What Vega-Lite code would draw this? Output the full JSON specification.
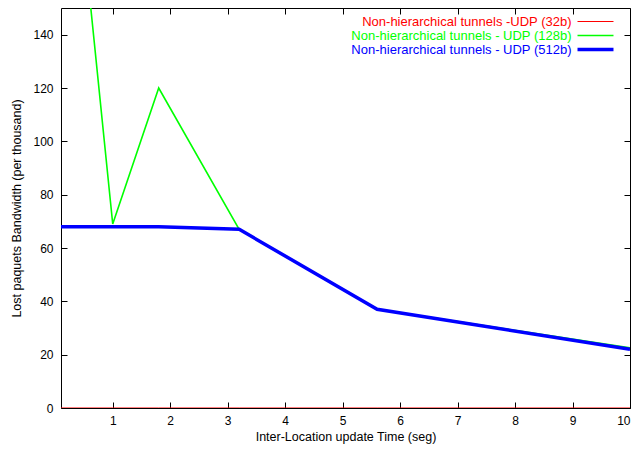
{
  "$schema": "https://vega.github.io/schema/vega-lite/v6.json",
  "width": 569,
  "height": 400,
  "autosize": "none",
  "padding": {"left": 61, "top": 8, "right": 10, "bottom": 48},
  "config": {
    "font": "Liberation Sans",
    "view": {"stroke": "#000", "strokeWidth": 1},
    "axis": {"grid": false, "domain": false, "labelColor": "#000", "labelFontSize": 12, "titleFontSize": 12.5, "titleFontWeight": "normal", "titleColor": "#000"}
  },
  "data": {"values": [
    {"series": "Non-hierarchical tunnels -UDP (32b)", "t": 0.1, "v": 0},
    {"series": "Non-hierarchical tunnels -UDP (32b)", "t": 1, "v": 0},
    {"series": "Non-hierarchical tunnels -UDP (32b)", "t": 1.8, "v": 0},
    {"series": "Non-hierarchical tunnels -UDP (32b)", "t": 3.2, "v": 0},
    {"series": "Non-hierarchical tunnels -UDP (32b)", "t": 5.6, "v": 0},
    {"series": "Non-hierarchical tunnels -UDP (32b)", "t": 10, "v": 0},
    {"series": "Non-hierarchical tunnels - UDP (128b)", "t": 0.1, "v": 260},
    {"series": "Non-hierarchical tunnels - UDP (128b)", "t": 1, "v": 69},
    {"series": "Non-hierarchical tunnels - UDP (128b)", "t": 1.8, "v": 120},
    {"series": "Non-hierarchical tunnels - UDP (128b)", "t": 3.2, "v": 67},
    {"series": "Non-hierarchical tunnels - UDP (128b)", "t": 5.6, "v": 37},
    {"series": "Non-hierarchical tunnels - UDP (128b)", "t": 10, "v": 22.6},
    {"series": "Non-hierarchical tunnels - UDP (512b)", "t": 0.1, "v": 68},
    {"series": "Non-hierarchical tunnels - UDP (512b)", "t": 1, "v": 68},
    {"series": "Non-hierarchical tunnels - UDP (512b)", "t": 1.8, "v": 68},
    {"series": "Non-hierarchical tunnels - UDP (512b)", "t": 3.2, "v": 67},
    {"series": "Non-hierarchical tunnels - UDP (512b)", "t": 5.6, "v": 37},
    {"series": "Non-hierarchical tunnels - UDP (512b)", "t": 10, "v": 22}
  ]},
  "resolve": {"axis": {"x": "independent", "y": "independent"}},
  "layer": [
    {
      "mark": {"type": "line", "clip": true},
      "encoding": {
        "x": {"field": "t", "type": "quantitative", "scale": {"domain": [0.1, 10], "nice": false, "zero": false},
              "axis": {"title": "Inter-Location update Time (seg)", "values": [1,2,3,4,5,6,7,8,9,10], "format": "d", "ticks": true, "tickColor": "black", "tickSize": 6, "offset": -6, "labelPadding": 7, "titlePadding": 4}},
        "y": {"field": "v", "type": "quantitative", "scale": {"domain": [0, 150], "nice": false},
              "axis": {"title": "Lost paquets Bandwidth (per thousand)", "values": [0,20,40,60,80,100,120,140], "ticks": true, "tickColor": "black", "tickSize": 6, "offset": -6, "labelPadding": 8, "titlePadding": 9}},
        "color": {"field": "series", "type": "nominal",
                  "scale": {"domain": ["Non-hierarchical tunnels -UDP (32b)", "Non-hierarchical tunnels - UDP (128b)", "Non-hierarchical tunnels - UDP (512b)"], "range": ["#ff0000", "#00ff00", "#0000ff"]},
                  "legend": {"orient": "none", "legendX": 528, "legendY": 7, "title": null, "labelAlign": "right", "labelOffset": -30.5, "labelLimit": 0, "labelFontSize": 13, "labelColor": {"expr": "scale('color', datum.value)"}, "symbolType": "M-5.14,0H5.14", "symbolSize": 49, "rowPadding": -2, "padding": 0}},
        "strokeWidth": {"field": "series", "type": "nominal",
                  "scale": {"type": "ordinal", "domain": ["Non-hierarchical tunnels -UDP (32b)", "Non-hierarchical tunnels - UDP (128b)", "Non-hierarchical tunnels - UDP (512b)"], "range": [1, 1.6, 3.5]},
                  "legend": {"orient": "none", "legendX": 528, "legendY": 7, "title": null, "labelAlign": "right", "labelOffset": -30.5, "labelLimit": 0, "labelFontSize": 13, "labelColor": {"expr": "scale('color', datum.value)"}, "symbolType": "M-5.14,0H5.14", "symbolSize": 49, "rowPadding": -2, "padding": 0}}
      }
    },
    {
      "mark": {"type": "line", "opacity": 0},
      "encoding": {
        "x": {"field": "t", "type": "quantitative", "axis": {"orient": "top", "labels": false, "title": null, "ticks": true, "tickColor": "black", "tickSize": 6, "offset": -6, "values": [1,2,3,4,5,6,7,8,9,10]}},
        "y": {"field": "v", "type": "quantitative", "axis": {"orient": "right", "labels": false, "title": null, "ticks": true, "tickColor": "black", "tickSize": 6, "offset": -6, "values": [0,20,40,60,80,100,120,140]}},
        "detail": {"field": "series"}
      }
    }
  ]
}
